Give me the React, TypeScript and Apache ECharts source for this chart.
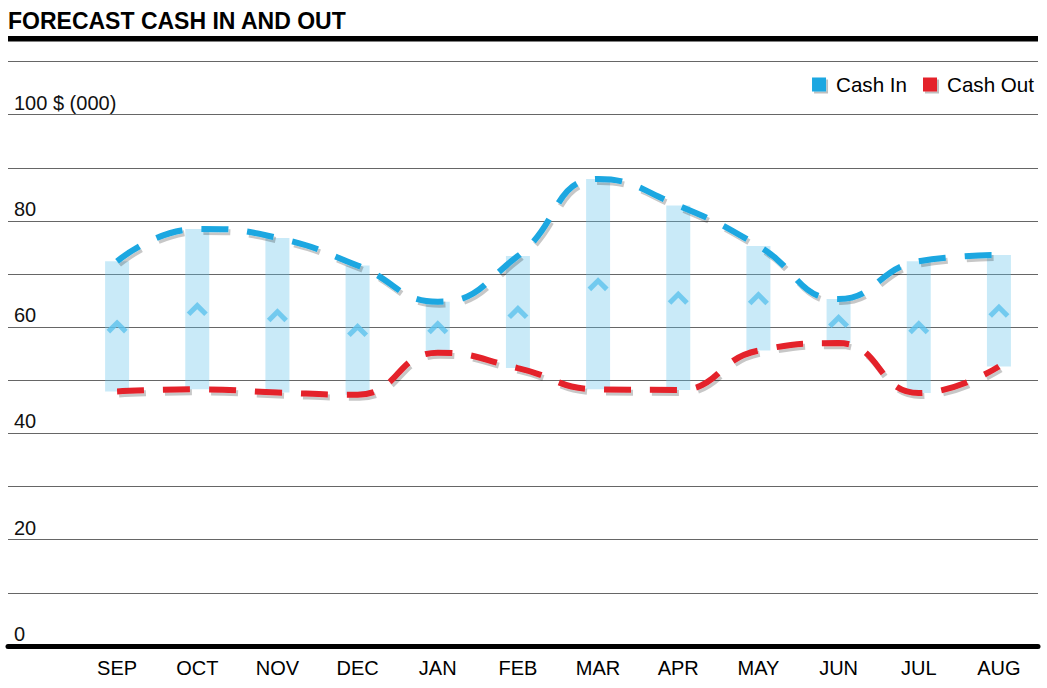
import React, { useEffect, useRef } from "react";
import * as echarts from "echarts";

const categories = ["SEP", "OCT", "NOV", "DEC", "JAN", "FEB", "MAR", "APR", "MAY", "JUN", "JUL", "AUG"];
const cashIn = [72.4, 78.5, 76.8, 71.6, 64.8, 73.4, 87.9, 82.9, 75.3, 65.3, 72.4, 73.6];
const cashOut = [47.9, 48.3, 47.7, 47.3, 55.2, 52.3, 48.3, 48.2, 55.6, 57.0, 47.6, 52.6];
const yTickValues = [0, 20, 40, 60, 80, 100];
const yTickLabels = ["0", "20", "40", "60", "80", "100 $ (000)"];

const FONT = "'Liberation Sans', Arial, sans-serif";
const BLUE = "#1aa7e1";
const RED = "#e4202a";

export default function App() {
  const ref = useRef<HTMLDivElement>(null);

  useEffect(() => {
    if (!ref.current) return;
    const chart = echarts.init(ref.current, null, { renderer: "svg" });

    const rangeVals = cashIn.map((v, i) => +(v - cashOut[i]).toFixed(2));
    const midVals = cashIn.map((v, i) => +((v + cashOut[i]) / 2).toFixed(2));

    const lineShadow = {
      shadowColor: "rgba(0,0,0,0.22)",
      shadowBlur: 1,
      shadowOffsetX: 2,
      shadowOffsetY: 3,
    };

    chart.setOption({
      animation: false,
      textStyle: { fontFamily: FONT },
      title: {
        text: "FORECAST CASH IN AND OUT",
        left: 8,
        top: 9,
        padding: 0,
        textStyle: { fontFamily: FONT, fontWeight: "bold", fontSize: 23, color: "#000" },
      },
      legend: {
        right: 13,
        top: 74,
        padding: 0,
        itemWidth: 14,
        itemHeight: 14,
        itemGap: 16,
        data: [
          { name: "Cash In", icon: "rect" },
          { name: "Cash Out", icon: "rect" },
        ],
        itemStyle: {
          borderWidth: 0,
          shadowColor: "rgba(0,0,0,0.25)",
          shadowBlur: 1,
          shadowOffsetX: 2,
          shadowOffsetY: 2,
        },
        textStyle: { fontFamily: FONT, fontSize: 20.6, color: "#000", padding: [0, 0, 0, 5] },
      },
      graphic: [
        {
          type: "rect",
          shape: { x: 8, y: 36, width: 1030, height: 5.5 },
          style: { fill: "#000" },
        },
      ],
      grid: [
        { left: 8, right: 9, top: 61.5, bottom: 42 },
        { left: 77, right: 8, top: 61.5, bottom: 42 },
      ],
      xAxis: [
        {
          gridIndex: 0,
          type: "value",
          min: 0,
          max: 1,
          axisLine: { show: true, onZero: false, lineStyle: { color: "#000", width: 5 } },
          axisTick: { show: false },
          axisLabel: { show: false },
          splitLine: { show: false },
        },
        {
          gridIndex: 1,
          type: "category",
          data: categories,
          boundaryGap: true,
          axisLine: { show: false },
          axisTick: { show: false },
          axisLabel: { fontFamily: FONT, fontSize: 20, color: "#000", margin: 12 },
          splitLine: { show: false },
        },
      ],
      yAxis: [
        {
          gridIndex: 0,
          type: "value",
          min: 0,
          max: 110,
          interval: 10,
          axisLine: { show: false },
          axisTick: { show: false },
          splitLine: { show: true, lineStyle: { color: "#666", width: 1 } },
          axisLabel: {
            inside: true,
            margin: 6,
            verticalAlign: "bottom",
            padding: [0, 0, 2, 0],
            fontFamily: FONT,
            fontSize: 20,
            color: "#111",
            formatter: (v: number) => {
              const idx = yTickValues.indexOf(v);
              return idx >= 0 ? yTickLabels[idx] : "";
            },
          },
        },
        {
          gridIndex: 1,
          type: "value",
          min: 0,
          max: 110,
          interval: 10,
          show: false,
          splitLine: { show: false },
        },
      ],
      series: [
        {
          name: "base",
          type: "bar",
          xAxisIndex: 1,
          yAxisIndex: 1,
          stack: "range",
          barWidth: 24,
          silent: true,
          itemStyle: { color: "transparent" },
          data: cashOut,
          z: 2,
        },
        {
          name: "range",
          type: "bar",
          xAxisIndex: 1,
          yAxisIndex: 1,
          stack: "range",
          barWidth: 24,
          silent: true,
          itemStyle: { color: "rgba(100,195,235,0.35)" },
          data: rangeVals,
          z: 2,
        },
        {
          name: "mid",
          type: "scatter",
          xAxisIndex: 1,
          yAxisIndex: 1,
          symbol: "path://M0,10L10,0L20,10L16.6,13.4L10,6.8L3.4,13.4Z",
          symbolSize: [21, 14],
          itemStyle: { color: "#5cc2ec" },
          data: midVals,
          silent: true,
          z: 3,
        },
        {
          name: "Cash In",
          type: "line",
          xAxisIndex: 1,
          yAxisIndex: 1,
          smooth: 0.5,
          symbol: "none",
          color: BLUE,
          itemStyle: { color: BLUE },
          lineStyle: { color: BLUE, width: 6, type: [27, 19], cap: "butt", ...lineShadow },
          data: cashIn,
          z: 5,
        },
        {
          name: "Cash Out",
          type: "line",
          xAxisIndex: 1,
          yAxisIndex: 1,
          smooth: 0.5,
          symbol: "none",
          color: RED,
          itemStyle: { color: RED },
          lineStyle: { color: RED, width: 6, type: [27, 19], cap: "butt", ...lineShadow },
          data: cashOut,
          z: 5,
        },
      ],
    });

    return () => {
      chart.dispose();
    };
  }, []);

  return (
    <div
      ref={ref}
      style={{ position: "fixed", left: 0, top: 0, width: 1047, height: 688, background: "#fff" }}
    />
  );
}
